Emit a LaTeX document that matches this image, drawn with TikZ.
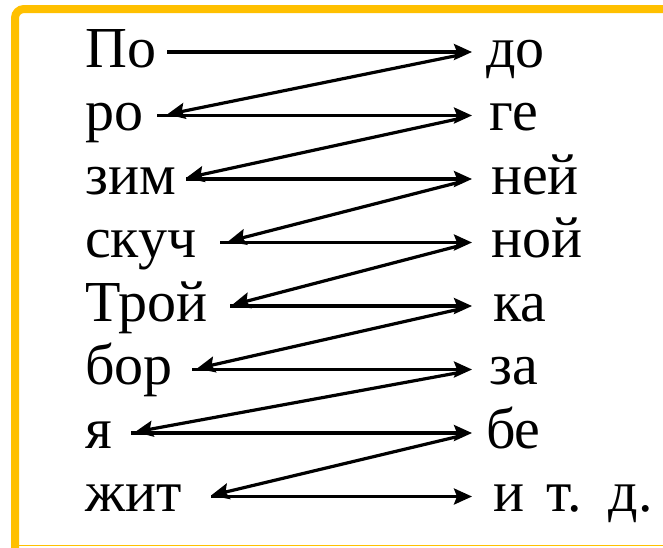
\documentclass[tikz,border=0pt]{standalone}
\usepackage{fontspec}
\setmainfont{Liberation Serif}
\usetikzlibrary{arrows.meta}
\definecolor{framecol}{HTML}{FFC000}
\begin{document}
\begin{tikzpicture}[x=1pt,y=-1pt,
  word/.style={anchor=base west,inner sep=0pt,font=\fontsize{58}{60}\selectfont},
  arr/.style={line width=3.2pt,-{Stealth[length=18pt,width=16pt,inset=3pt]}},
  framestripe/.style={draw=framecol,line width=8pt,rounded corners=9pt},
  frameline/.style={draw=framecol,line width=1.5pt}]
\useasboundingbox (0,0) rectangle (663,547);
\draw[framestripe] (680,9) -- (15,9) -- (15,560);
\draw[frameline] (11,545.5) -- (680,545.5);
% left words
\node[word] (l1) at (85,67) {По};
\node[word] (l2) at (85,130.5) {ро};
\node[word] (l3) at (85,194) {зим};
\node[word] (l4) at (85,257.5) {скуч};
\node[word] (l5) at (85,321) {Трой};
\node[word] (l6) at (85,384.5) {бор};
\node[word] (l7) at (85,448) {я};
\node[word] (l8) at (85,511.5) {жит};
% right syllables
\node[word] (r1) at (486,67) {до};
\node[word] (r2) at (489,130.5) {ге};
\node[word] (r3) at (491,194) {ней};
\node[word] (r4) at (491,257.5) {ной};
\node[word] (r5) at (493,321) {ка};
\node[word] (r6) at (489,384.5) {за};
\node[word] (r7) at (486,448) {бе};
\node[word] (r8) at (493,511.5) {и\hspace{0.13em} т.\hspace{0.13em} д.};
% arrow end points
\coordinate (s1) at (167,52);    \coordinate (e1) at (472,52);
\coordinate (s2) at (157,115.5); \coordinate (e2) at (472,115.5);
\coordinate (s3) at (186,179);   \coordinate (e3) at (472,179);
\coordinate (s4) at (220,242.5); \coordinate (e4) at (472,242.5);
\coordinate (s5) at (230,306);   \coordinate (e5) at (472,306);
\coordinate (s6) at (192,369.5); \coordinate (e6) at (472,369.5);
\coordinate (s7) at (131,433);   \coordinate (e7) at (472,433);
\coordinate (s8) at (211,496.5); \coordinate (e8) at (472,496.5);
\coordinate (t2) at (167,114.5);
\coordinate (t3) at (186,178);
\coordinate (t4) at (228,241.5);
\coordinate (t5) at (232,305);
\coordinate (t6) at (197,368.5);
\coordinate (t7) at (135,432);
\coordinate (t8) at (211,495.5);
\coordinate (d1) at (462,54.5);
\coordinate (d2) at (462,118);
\coordinate (d3) at (462,181.5);
\coordinate (d4) at (462,245);
\coordinate (d5) at (462,308.5);
\coordinate (d6) at (462,372);
\coordinate (d7) at (462,435.5);
% horizontal arrows
\foreach \i in {1,...,8} \draw[arr] (s\i) -- (e\i);
% diagonal arrows
\draw[arr] (d1) -- (t2);
\draw[arr] (d2) -- (t3);
\draw[arr] (d3) -- (t4);
\draw[arr] (d4) -- (t5);
\draw[arr] (d5) -- (t6);
\draw[arr] (d6) -- (t7);
\draw[arr] (d7) -- (t8);
\end{tikzpicture}
\end{document}
